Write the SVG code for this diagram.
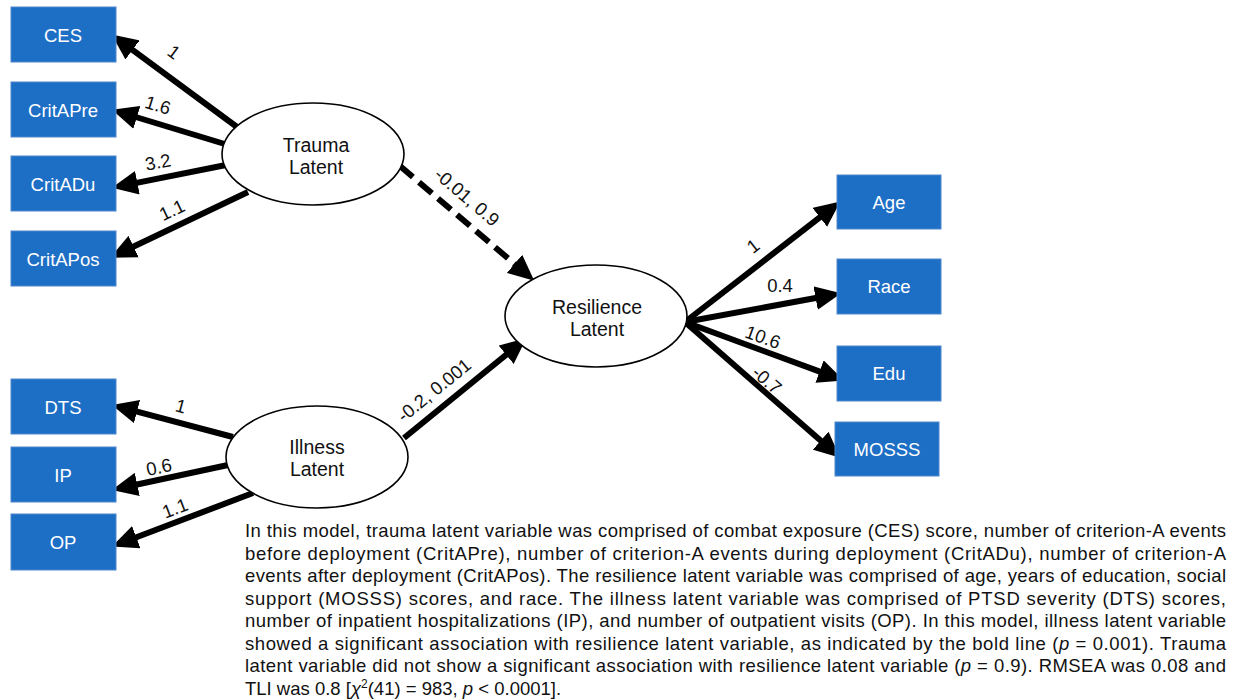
<svg xmlns="http://www.w3.org/2000/svg" width="1236" height="700" viewBox="0 0 1236 700">
<style>
.box{fill:#1d6ec5;stroke:#4f88cc;stroke-width:1}
.bt{font-family:"Liberation Sans",Arial,sans-serif;font-size:18.5px;fill:#ffffff;text-anchor:middle}
.ell{fill:#ffffff;stroke:#000000;stroke-width:1.6}
.et{font-family:"Liberation Sans",Arial,sans-serif;font-size:19.5px;fill:#111111;text-anchor:middle}
.arr{stroke:#000000;stroke-width:6;fill:none;marker-end:url(#ah)}
.dash{stroke-dasharray:17,8}
.lbl{font-family:"Liberation Sans",Arial,sans-serif;font-size:18.5px;fill:#111111;text-anchor:middle}
.para{font-family:"Liberation Sans",Arial,sans-serif;font-size:18.5px;fill:#111111}
</style>
<defs>
<marker id="ah" markerUnits="userSpaceOnUse" markerWidth="26" markerHeight="24" refX="9" refY="11" orient="auto" viewBox="0 0 24 22">
<path d="M0,0 L24,11 L0,22 z" fill="#000000"/>
</marker>
</defs>

<g id="connectors">
<line class="arr" x1="237" y1="127" x2="124.7" y2="44.1"/>
<line class="arr" x1="228" y1="145" x2="127.5" y2="114.5"/>
<line class="arr" x1="226" y1="165" x2="127.8" y2="184.6"/>
<line class="arr" x1="248" y1="192" x2="124.8" y2="250.8"/>
<line class="arr" x1="233" y1="437" x2="127.6" y2="409.1"/>
<line class="arr" x1="228" y1="465" x2="127.7" y2="486.5"/>
<line class="arr" x1="253" y1="493" x2="127.2" y2="540.7"/>
<line class="arr dash" x1="400" y1="166" x2="521.9" y2="270.2"/>
<line class="arr" x1="404" y1="438" x2="513.7" y2="348.6"/>
<line class="arr" x1="685" y1="322" x2="827.5" y2="211.4"/>
<line class="arr" x1="685" y1="322" x2="825.2" y2="296.2"/>
<line class="arr" x1="685" y1="322" x2="828.7" y2="374.9"/>
<line class="arr" x1="685" y1="322" x2="828.0" y2="447.1"/>
<text class="lbl" transform="translate(174,52) rotate(36)" dy="6.5">1</text>
<text class="lbl" transform="translate(158,105) rotate(17)" dy="6.5">1.6</text>
<text class="lbl" transform="translate(158,162) rotate(-11)" dy="6.5">3.2</text>
<text class="lbl" transform="translate(172,210) rotate(-25)" dy="6.5">1.1</text>
<text class="lbl" transform="translate(181,406) rotate(15)" dy="6.5">1</text>
<text class="lbl" transform="translate(159,467) rotate(-12)" dy="6.5">0.6</text>
<text class="lbl" transform="translate(175,508) rotate(-21)" dy="6.5">1.1</text>
<text class="lbl" transform="translate(467,197) rotate(40.5)" dy="6.5">-0.01, 0.9</text>
<text class="lbl" transform="translate(434,390) rotate(-39)" dy="6.5">-0.2, 0.001</text>
<text class="lbl" transform="translate(753,246) rotate(-38)" dy="6.5">1</text>
<text class="lbl" transform="translate(780,285)" dy="6.5">0.4</text>
<text class="lbl" transform="translate(763,337) rotate(20)" dy="6.5">10.6</text>
<text class="lbl" transform="translate(767,380) rotate(41)" dy="6.5">-0.7</text>
</g>

<g id="CES"><rect class="box" x="11" y="7" width="105" height="55"/><text class="bt" x="63" y="41.5">CES</text></g>
<g id="CritAPre"><rect class="box" x="11" y="82" width="105" height="55"/><text class="bt" x="63" y="116.5">CritAPre</text></g>
<g id="CritADu"><rect class="box" x="11" y="156" width="105" height="55"/><text class="bt" x="63" y="191">CritADu</text></g>
<g id="CritAPos"><rect class="box" x="11" y="231" width="105" height="55"/><text class="bt" x="63" y="266">CritAPos</text></g>
<g id="DTS"><rect class="box" x="11" y="379" width="105" height="55"/><text class="bt" x="63" y="413.5">DTS</text></g>
<g id="IP"><rect class="box" x="11" y="447" width="105" height="55"/><text class="bt" x="63" y="481.5">IP</text></g>
<g id="OP"><rect class="box" x="11" y="514" width="105" height="56"/><text class="bt" x="63" y="548.5">OP</text></g>
<g id="Age"><rect class="box" x="837" y="175" width="104" height="54"/><text class="bt" x="889" y="208.5">Age</text></g>
<g id="Race"><rect class="box" x="837" y="259" width="104" height="55"/><text class="bt" x="889" y="293">Race</text></g>
<g id="Edu"><rect class="box" x="837" y="346" width="104" height="55"/><text class="bt" x="889" y="380">Edu</text></g>
<g id="MOSSS"><rect class="box" x="835" y="422" width="104" height="54"/><text class="bt" x="887" y="456">MOSSS</text></g>

<g id="TraumaLatent"><ellipse class="ell" cx="313" cy="154" rx="91" ry="51"/><text class="et" x="316" y="151.5">Trauma</text><text class="et" x="316" y="174">Latent</text></g>
<g id="IllnessLatent"><ellipse class="ell" cx="317" cy="457" rx="91" ry="51"/><text class="et" x="317" y="453.5">Illness</text><text class="et" x="317" y="476">Latent</text></g>
<g id="ResilienceLatent"><ellipse class="ell" cx="596" cy="316" rx="91" ry="51"/><text class="et" x="597" y="313.5">Resilience</text><text class="et" x="597" y="336">Latent</text></g>

<g id="caption">
<text class="para" x="245" y="537" textLength="981" lengthAdjust="spacing">In this model, trauma latent variable was comprised of combat exposure (CES) score,  number of criterion-A events</text>
<text class="para" x="245" y="559.5" textLength="981" lengthAdjust="spacing">before deployment (CritAPre), number of criterion-A events during deployment (CritADu), number of criterion-A</text>
<text class="para" x="245" y="582" textLength="981" lengthAdjust="spacing">events after deployment (CritAPos). The resilience latent variable was comprised of age, years of education, social</text>
<text class="para" x="245" y="604.5" textLength="981" lengthAdjust="spacing">support (MOSSS) scores, and race.  The illness latent variable was comprised of PTSD severity (DTS) scores,</text>
<text class="para" x="245" y="627" textLength="981" lengthAdjust="spacing">number of inpatient hospitalizations (IP), and number of outpatient visits (OP). In this model, illness latent variable</text>
<text class="para" x="245" y="649.5" textLength="981" lengthAdjust="spacing">showed a significant association with resilience latent variable, as indicated by the bold line (<tspan font-style="italic">p</tspan> = 0.001). Trauma</text>
<text class="para" x="245" y="672" textLength="981" lengthAdjust="spacing">latent variable did not show a significant association with resilience latent variable (<tspan font-style="italic">p</tspan> = 0.9). RMSEA was 0.08 and</text>
<text class="para" x="245" y="694.5">TLI was 0.8 [<tspan font-style="italic">χ</tspan><tspan font-size="12" dy="-7">2</tspan><tspan dy="7">(41) = 983, </tspan><tspan font-style="italic">p</tspan> &lt; 0.0001].</text>
</g>
</svg>
